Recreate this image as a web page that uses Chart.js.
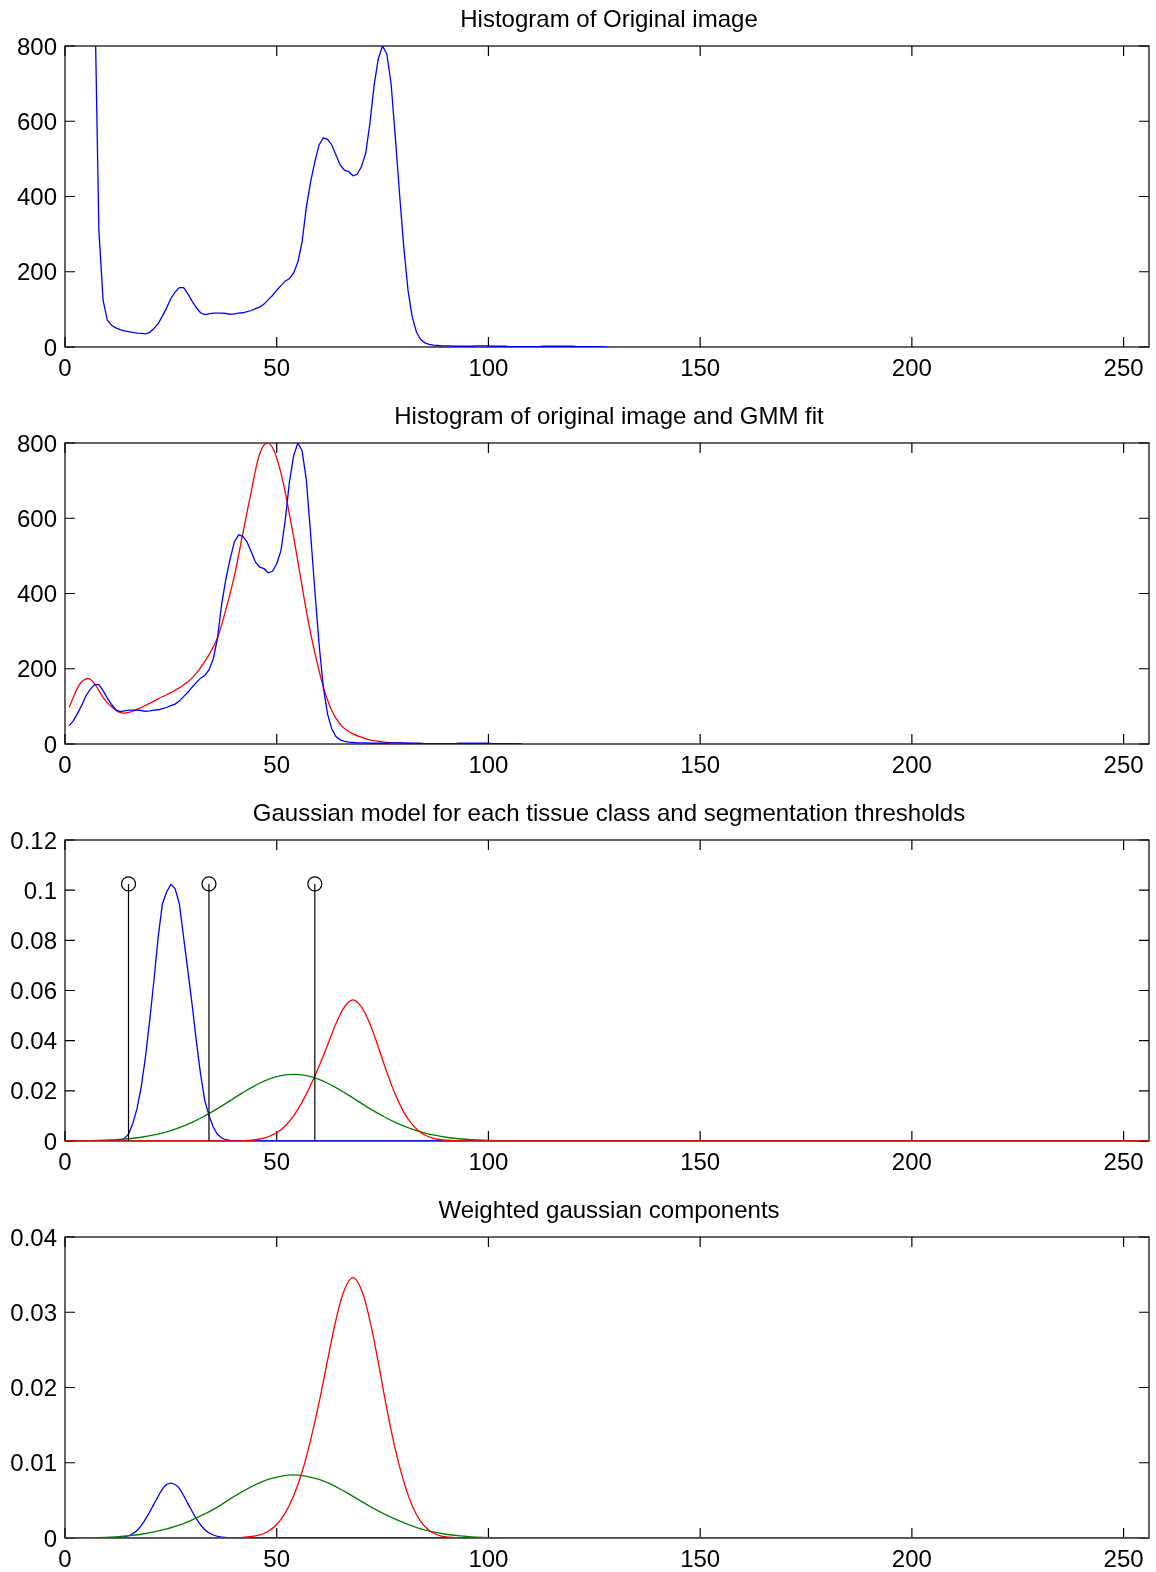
<!DOCTYPE html>
<html>
<head>
<meta charset="utf-8">
<title>Histogram and GMM segmentation</title>
<script src="https://cdn.jsdelivr.net/npm/chart.js@4.4.0/dist/chart.umd.min.js"></script>
<style>
  html, body { margin: 0; padding: 0; background: #fff; }
  body { width: 1156px; height: 1572px; position: relative; overflow: hidden; }
  .panel { position: absolute; left: 0; width: 1156px; height: 397px; }
  .panel canvas { display: block; }
</style>
</head>
<body>
<div class="panel" style="top:0px"><canvas id="p1" width="1156" height="397"></canvas></div>
<div class="panel" style="top:397px"><canvas id="p2" width="1156" height="397"></canvas></div>
<div class="panel" style="top:794px"><canvas id="p3" width="1156" height="397"></canvas></div>
<div class="panel" style="top:1191px"><canvas id="p4" width="1156" height="397"></canvas></div>
<script>
// ---- tick values ----
const xTicks = [0, 50, 100, 150, 200, 250];
const countTicks = [0, 200, 400, 600, 800];
const pdfTicks = [0, 0.02, 0.04, 0.06, 0.08, 0.1, 0.12];
const weightedTicks = [0, 0.01, 0.02, 0.03, 0.04];

// ---- intensity histogram of the original image (bins 6..128) ----
const histBins = [];
for (let b = 6; b <= 128; b++) histBins.push(b);
const histCounts = [
  4000, 954, 310, 124, 71, 58, 51, 46, 43, 41, 39, 37, 36, 35,          // 6-19
  39, 49, 62, 82, 104, 129, 146, 158, 158, 142,                          // 20-29
  122, 105, 91, 86, 88, 90, 90, 90, 89, 87,                              // 30-39
  88, 90, 91, 94, 97, 102, 106, 114, 126, 137,                           // 40-49
  151, 163, 175, 182, 197, 226, 280, 372, 439, 492,                      // 50-59
  537, 556, 552, 537, 510, 483, 470, 466, 455, 459,                      // 60-69
  479, 514, 594, 696, 767, 800, 779, 701, 559, 408,                      // 70-79
  266, 151, 80, 40, 20, 11, 7, 5, 4, 3,                                  // 80-89
  3, 3, 2, 2, 2, 2, 2, 3, 3, 3,                                          // 90-99
  3, 2, 2, 2, 2, 1, 1, 1, 1, 1,                                          // 100-109
  1, 1, 1, 2, 2, 2, 2, 2, 2, 2,                                          // 110-119
  2, 1, 1, 1, 1, 1, 1, 0, 0                                              // 120-128
];
// the GMM was fitted on the histogram cropped below this bin
const cropOffset = 20;

// ---- GMM fit over the cropped histogram ----
const gmmX = [1, 2, 3, 4, 5, 5.5, 6, 7, 8, 9, 10, 11, 12, 13, 14, 15, 16, 18, 20, 22, 24, 26, 28, 30,
  32, 34, 36, 38, 40, 42, 44, 45, 46, 47, 48, 49, 50, 51, 52, 53, 54, 55, 56, 57, 58, 59, 60,
  61, 62, 63, 64, 65, 66, 68, 70, 72, 74, 76, 80, 85, 90, 100, 108];
const gmmFit = [98, 125, 150, 166, 173, 174, 172, 160, 142, 124, 110, 99, 90, 84, 82, 84, 87, 97, 108, 120, 131, 143, 157, 175,
  203, 237, 282, 358, 447, 560, 672, 728, 772, 795, 800, 788, 760, 720, 670, 610, 550, 485, 418, 354, 295, 243, 195,
  152, 117, 89, 68, 53, 41, 27, 18, 11, 7, 4.5, 2, 1, 0.5, 0.2, 0.1];

// ---- class-conditional gaussian densities ----
const csfX = [0, 10, 12, 13, 14, 15, 16, 17, 18, 19, 20, 21, 22, 23, 24, 25, 26, 27, 28, 29, 30,
  31, 32, 33, 34, 35, 36, 37, 38, 39, 40, 45, 256];
const csfPdf = [0, 0, 0.0001, 0.0003, 0.0010, 0.0027, 0.0069, 0.0129, 0.0215, 0.0335, 0.0481, 0.0640,
  0.0813, 0.0946, 0.0993, 0.1023, 0.1006, 0.0946, 0.0814, 0.0680, 0.0547, 0.0401, 0.0268, 0.0162,
  0.0102, 0.0056, 0.0027, 0.0012, 0.0005, 0.0002, 0.0001, 0, 0];

const gmX = [0, 6, 12, 15, 18, 21, 24, 27, 30, 33, 36, 39, 42, 45, 48, 51, 54, 57, 60, 63, 66, 69, 72,
  75, 78, 81, 84, 87, 90, 93, 96, 102, 108, 256];
const gmPdf = [0.00004, 0.00016, 0.0005, 0.0009, 0.0015, 0.0024, 0.0036, 0.0053, 0.0074, 0.0100, 0.0129,
  0.0161, 0.0193, 0.0222, 0.0246, 0.0261, 0.0266, 0.0261, 0.0246, 0.0222, 0.0193, 0.0161, 0.0129,
  0.0100, 0.0074, 0.0053, 0.0036, 0.0024, 0.0015, 0.0009, 0.0005, 0.00016, 0.00004, 0];

const wmX = [0, 40, 42, 44, 46, 48, 50, 52, 54, 56, 58, 60, 62, 64, 66, 68, 70, 72, 74, 76, 78, 80,
  82, 84, 86, 88, 90, 92, 96, 256];
const wmPdf = [0, 0, 0.0001, 0.0003, 0.0008, 0.0017, 0.0033, 0.0060, 0.0100, 0.0155, 0.0222, 0.0298,
  0.0382, 0.0468, 0.0535, 0.0563, 0.0535, 0.0467, 0.0374, 0.0275, 0.0186, 0.0115, 0.0066, 0.0034,
  0.0016, 0.0007, 0.0003, 0.0001, 0, 0];

// segmentation thresholds and the height of their stem markers
const thresholds = [15, 34, 59];
const thresholdLevel = 0.1025;

// ---- weighted components (prior x density) ----
const csfWX = [0, 10, 13, 15, 17, 19, 21, 23, 24, 25, 26, 27, 29, 31, 33, 35, 37, 40, 256];
const csfWeighted = [0, 0, 0.0001, 0.0003, 0.0010, 0.0025, 0.0045, 0.0065, 0.0071, 0.0073, 0.0071, 0.0066,
  0.0046, 0.0026, 0.0011, 0.0004, 0.0001, 0, 0];

const gmWX = [0, 6, 12, 15, 18, 21, 24, 27, 30, 33, 36, 39, 42, 45, 48, 51, 54, 57, 60, 63, 66, 69, 72,
  75, 78, 81, 84, 87, 90, 93, 96, 102, 108, 256];
const gmWeighted = [0.00001, 0.00005, 0.00016, 0.0003, 0.0005, 0.0008, 0.0012, 0.0017, 0.0024, 0.0032,
  0.0041, 0.0052, 0.0062, 0.0071, 0.0078, 0.0082, 0.0084, 0.0082, 0.0078, 0.0071, 0.0062, 0.0052,
  0.0042, 0.0033, 0.0025, 0.0018, 0.0012, 0.0008, 0.0005, 0.0003, 0.00016, 0.00005, 0.00001, 0];

const wmWX = [0, 40, 44, 46, 48, 50, 52, 54, 56, 58, 60, 62, 64, 66, 68, 70, 72, 74, 76, 78, 80, 82,
  84, 86, 88, 90, 94, 256];
const wmWeighted = [0, 0, 0.0002, 0.0004, 0.0009, 0.0018, 0.0033, 0.0056, 0.0088, 0.0130, 0.0180, 0.0236,
  0.0290, 0.0330, 0.0346, 0.0330, 0.0289, 0.0233, 0.0172, 0.0118, 0.0075, 0.0043, 0.0022, 0.0010,
  0.0004, 0.00015, 0, 0];

// ---- helpers ----
const FONT = { family: '"Liberation Sans", Arial, Helvetica, sans-serif', size: 24 };
const BLUE = '#0000ff', RED = '#ff0000', GREEN = '#008000';

const pts = (xs, ys) => xs.map((x, i) => ({ x, y: ys[i] }));

// smooth curves use Chart.js bezier tension; histograms stay piecewise linear
function series(data, color, smooth) {
  return {
    data, borderColor: color, borderWidth: 1.3, pointRadius: 0, fill: false,
    tension: smooth ? 0.4 : 0, spanGaps: false
  };
}

// box with inward ticks on all four sides, plus a title centred over the plot area
const frame = {
  id: 'frame',
  beforeDatasetsDraw(chart) {
    const { ctx, chartArea: a, scales: { x, y } } = chart;
    const len = 10;
    ctx.save();
    ctx.strokeStyle = '#000';
    ctx.lineWidth = 1.2;
    ctx.strokeRect(a.left, a.top, a.right - a.left, a.bottom - a.top);
    ctx.beginPath();
    x.ticks.forEach(t => {
      const px = x.getPixelForValue(t.value);
      ctx.moveTo(px, a.bottom); ctx.lineTo(px, a.bottom - len);
      ctx.moveTo(px, a.top); ctx.lineTo(px, a.top + len);
    });
    y.ticks.forEach(t => {
      const py = y.getPixelForValue(t.value);
      ctx.moveTo(a.left, py); ctx.lineTo(a.left + len, py);
      ctx.moveTo(a.right, py); ctx.lineTo(a.right - len, py);
    });
    ctx.stroke();
    ctx.restore();
  },
  afterDraw(chart, args, opts) {
    const { ctx, chartArea: a } = chart;
    ctx.save();
    ctx.fillStyle = '#000';
    ctx.font = `${FONT.size}px ${FONT.family}`;
    ctx.textAlign = 'center';
    ctx.textBaseline = 'alphabetic';
    ctx.fillText(opts.title, (a.left + a.right) / 2 + 2, a.top - 19);
    ctx.restore();
  }
};

function panel(id, title, yMax, yTicks, datasets) {
  return new Chart(document.getElementById(id), {
    type: 'line',
    data: { datasets },
    plugins: [frame],
    options: {
      responsive: false,
      animation: false,
      devicePixelRatio: 1,
      events: [],
      layout: { padding: { top: 46, right: 7, left: 0, bottom: 0 } },
      plugins: { legend: { display: false }, tooltip: { enabled: false }, frame: { title } },
      scales: {
        x: {
          type: 'linear', min: 0, max: 256,
          afterBuildTicks: s => { s.ticks = xTicks.map(v => ({ value: v })); },
          afterFit: s => { s.height = 50; },
          grid: { display: false, drawTicks: false },
          border: { display: false },
          ticks: { autoSkip: false, maxRotation: 0, padding: 8, color: '#000', font: FONT, callback: v => String(v) }
        },
        y: {
          type: 'linear', min: 0, max: yMax,
          afterBuildTicks: s => { s.ticks = yTicks.map(v => ({ value: v })); },
          afterFit: s => { s.width = 65; },
          grid: { display: false, drawTicks: false },
          border: { display: false },
          ticks: { autoSkip: false, padding: 8, labelOffset: 2, color: '#000', font: FONT, callback: v => String(v) }
        }
      }
    }
  });
}

// 1) full histogram
panel('p1', 'Histogram of Original image', 800, countTicks, [
  series(pts(histBins, histCounts), BLUE, false)
]);

// 2) cropped histogram with the GMM fit
const croppedX = [], croppedY = [];
histBins.forEach((b, i) => { if (b > cropOffset) { croppedX.push(b - cropOffset); croppedY.push(histCounts[i]); } });
panel('p2', 'Histogram of original image and GMM fit', 800, countTicks, [
  series(pts(croppedX, croppedY), BLUE, false),
  series(pts(gmmX, gmmFit), RED, true)
]);

// 3) per-class densities with threshold stems
const stemPoints = [];
thresholds.forEach(t => {
  stemPoints.push({ x: t, y: 0 }, { x: t, y: thresholdLevel }, { x: t, y: null });
});
panel('p3', 'Gaussian model for each tissue class and segmentation thresholds', 0.12, pdfTicks, [
  {
    data: stemPoints, borderColor: '#000', borderWidth: 1.2, fill: false, spanGaps: false, tension: 0,
    pointStyle: 'circle',
    pointRadius: c => (c.raw && c.raw.y > 0 ? 7 : 0),
    pointBorderColor: '#000', pointBackgroundColor: 'rgba(0,0,0,0)', pointBorderWidth: 1.2
  },
  series(pts(wmX, wmPdf), RED, true),
  series(pts(gmX, gmPdf), GREEN, true),
  series(pts(csfX, csfPdf), BLUE, false)
]);

// 4) weighted components
panel('p4', 'Weighted gaussian components', 0.04, weightedTicks, [
  series(pts(wmWX, wmWeighted), RED, true),
  series(pts(gmWX, gmWeighted), GREEN, true),
  series(pts(csfWX, csfWeighted), BLUE, true)
]);
</script>
</body>
</html>
